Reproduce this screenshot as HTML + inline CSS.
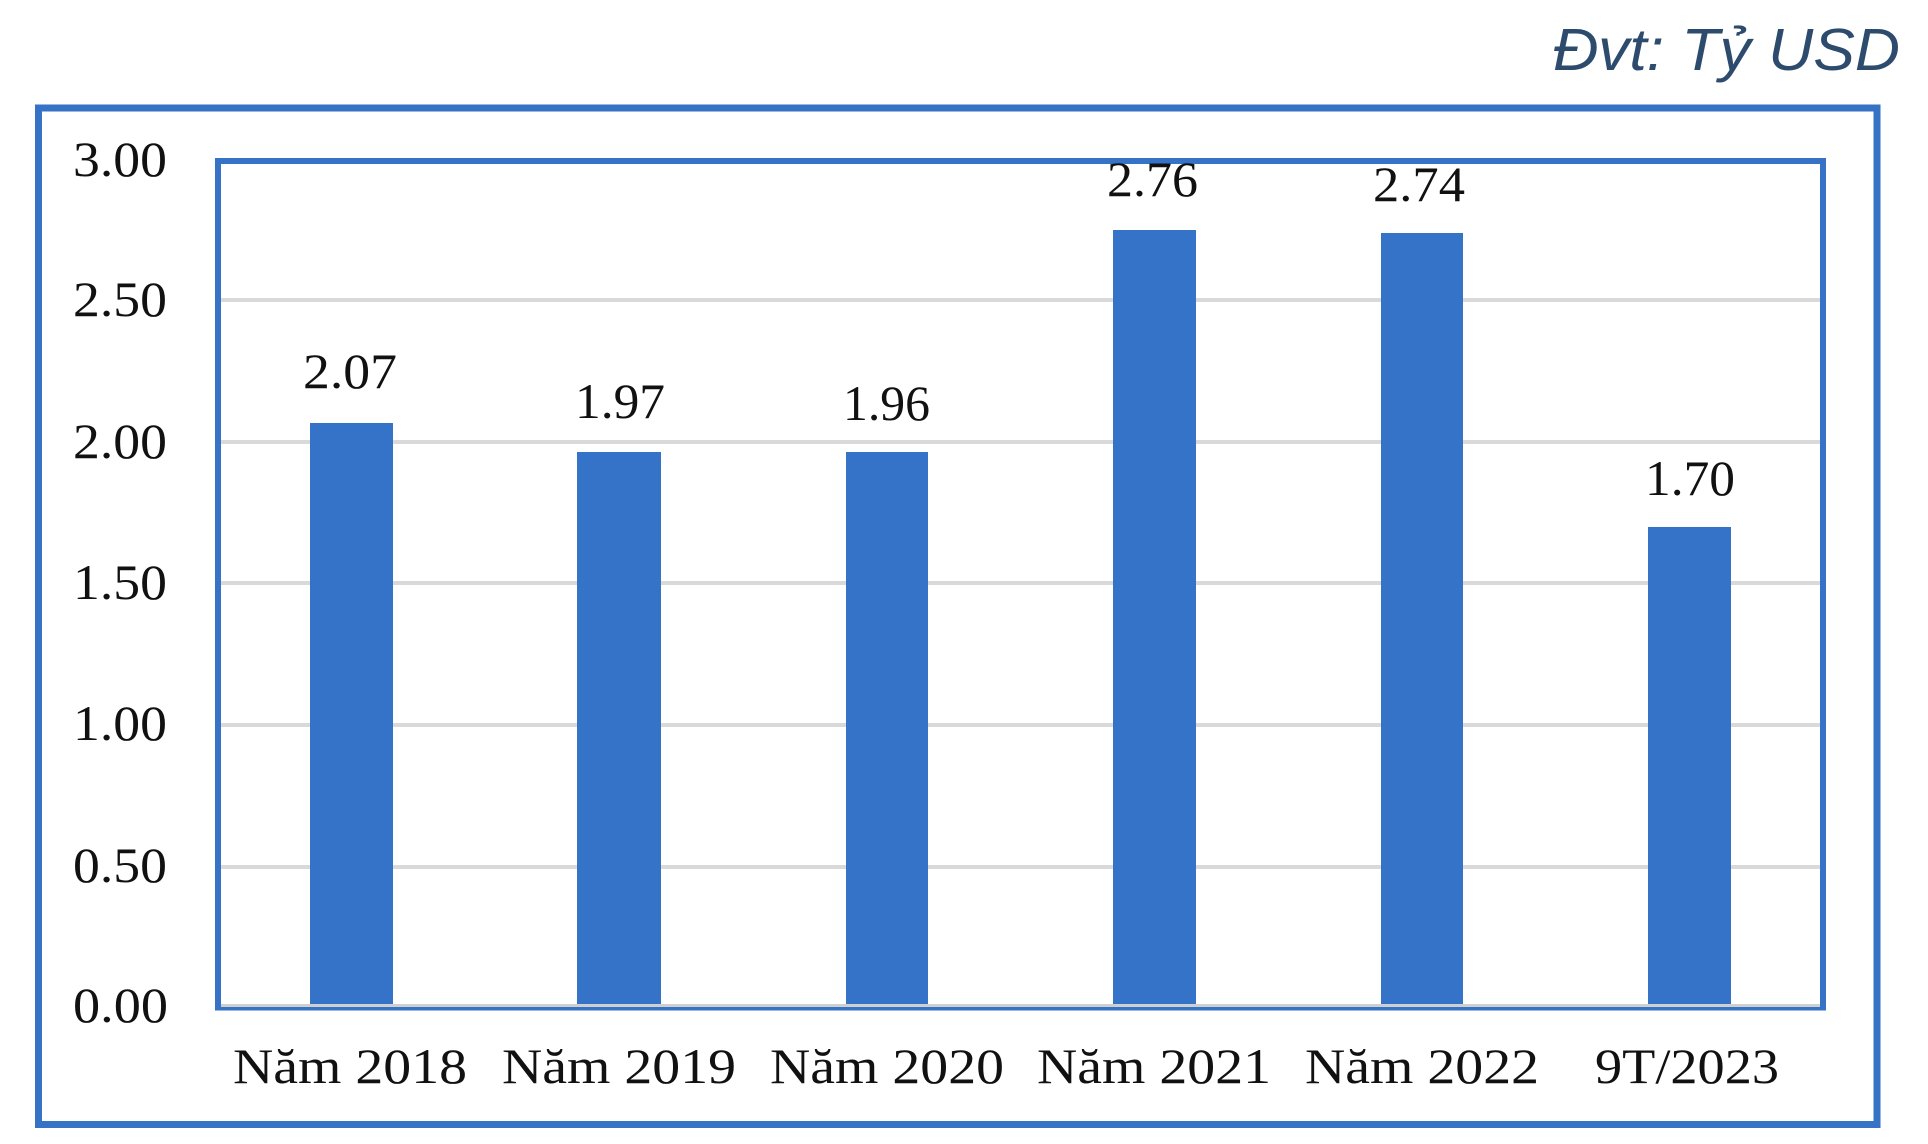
<!DOCTYPE html>
<html>
<head>
<meta charset="utf-8">
<style>
  html, body { margin:0; padding:0; background:#ffffff; }
  svg { display:block; }
  .num { font-family:"Liberation Serif", "DejaVu Serif", serif; font-size:50px; fill:#111; }
  .title { font-family:"Liberation Sans", "DejaVu Sans", sans-serif; font-style:italic; font-size:59px; fill:#2d4b6d; }
</style>
</head>
<body>
<svg width="1928" height="1144" viewBox="0 0 1928 1144" xmlns="http://www.w3.org/2000/svg">
  <rect x="0" y="0" width="1928" height="1144" fill="#ffffff"/>

  <!-- Title -->
  <text class="title" x="1553" y="70" textLength="347" lengthAdjust="spacingAndGlyphs">Đvt: Tỷ USD</text>

  <!-- Outer border -->
  <rect x="38.5" y="108" width="1838.5" height="1016.5" fill="none" stroke="#3673c6" stroke-width="7"/>

  <!-- Gridlines -->
  <g fill="#d9d9d9">
    <rect x="221" y="298" width="1599" height="4"/>
    <rect x="221" y="440" width="1599" height="4"/>
    <rect x="221" y="581" width="1599" height="4"/>
    <rect x="221" y="723" width="1599" height="4"/>
    <rect x="221" y="865" width="1599" height="4"/>
  </g>

  <!-- Bars -->
  <g fill="#3473c7">
    <rect x="310" y="423" width="83" height="581"/>
    <rect x="577" y="452" width="84" height="552"/>
    <rect x="846" y="452" width="82" height="552"/>
    <rect x="1113" y="230" width="83" height="774"/>
    <rect x="1381" y="233" width="82" height="771"/>
    <rect x="1648" y="527" width="83" height="477"/>
  </g>

  <!-- Axis line (grey) -->
  <rect x="218" y="1004" width="1605" height="3" fill="#cfcfcf"/>

  <!-- Inner frame -->
  <path d="M218 1008.5 L218 161 L1823 161 L1823 1008.5" fill="none" stroke="#3673c6" stroke-width="6"/>
  <rect x="215" y="1007" width="1611" height="3.5" fill="#3673c6"/>

  <!-- Y tick labels -->
  <g class="num">
    <text x="73" y="176" textLength="94" lengthAdjust="spacingAndGlyphs">3.00</text>
    <text x="73" y="316" textLength="94" lengthAdjust="spacingAndGlyphs">2.50</text>
    <text x="73" y="458" textLength="94" lengthAdjust="spacingAndGlyphs">2.00</text>
    <text x="73" y="599" textLength="94" lengthAdjust="spacingAndGlyphs">1.50</text>
    <text x="73" y="740" textLength="94" lengthAdjust="spacingAndGlyphs">1.00</text>
    <text x="73" y="882" textLength="94" lengthAdjust="spacingAndGlyphs">0.50</text>
    <text x="73" y="1022" textLength="95" lengthAdjust="spacingAndGlyphs">0.00</text>
  </g>

  <!-- Data labels -->
  <g class="num">
    <text x="303" y="388" textLength="94" lengthAdjust="spacingAndGlyphs">2.07</text>
    <text x="575" y="418" textLength="90" lengthAdjust="spacingAndGlyphs">1.97</text>
    <text x="843" y="420" textLength="87" lengthAdjust="spacingAndGlyphs">1.96</text>
    <text x="1107" y="196" textLength="91" lengthAdjust="spacingAndGlyphs">2.76</text>
    <text x="1373" y="201" textLength="92" lengthAdjust="spacingAndGlyphs">2.74</text>
    <text x="1645" y="495" textLength="90" lengthAdjust="spacingAndGlyphs">1.70</text>
  </g>

  <!-- X category labels -->
  <g class="num">
    <text x="233" y="1083" textLength="234" lengthAdjust="spacingAndGlyphs">Năm 2018</text>
    <text x="502" y="1083" textLength="234" lengthAdjust="spacingAndGlyphs">Năm 2019</text>
    <text x="770" y="1083" textLength="234" lengthAdjust="spacingAndGlyphs">Năm 2020</text>
    <text x="1037" y="1083" textLength="234" lengthAdjust="spacingAndGlyphs">Năm 2021</text>
    <text x="1305" y="1083" textLength="234" lengthAdjust="spacingAndGlyphs">Năm 2022</text>
    <text x="1595" y="1083" textLength="184" lengthAdjust="spacingAndGlyphs">9T/2023</text>
  </g>
</svg>
</body>
</html>
